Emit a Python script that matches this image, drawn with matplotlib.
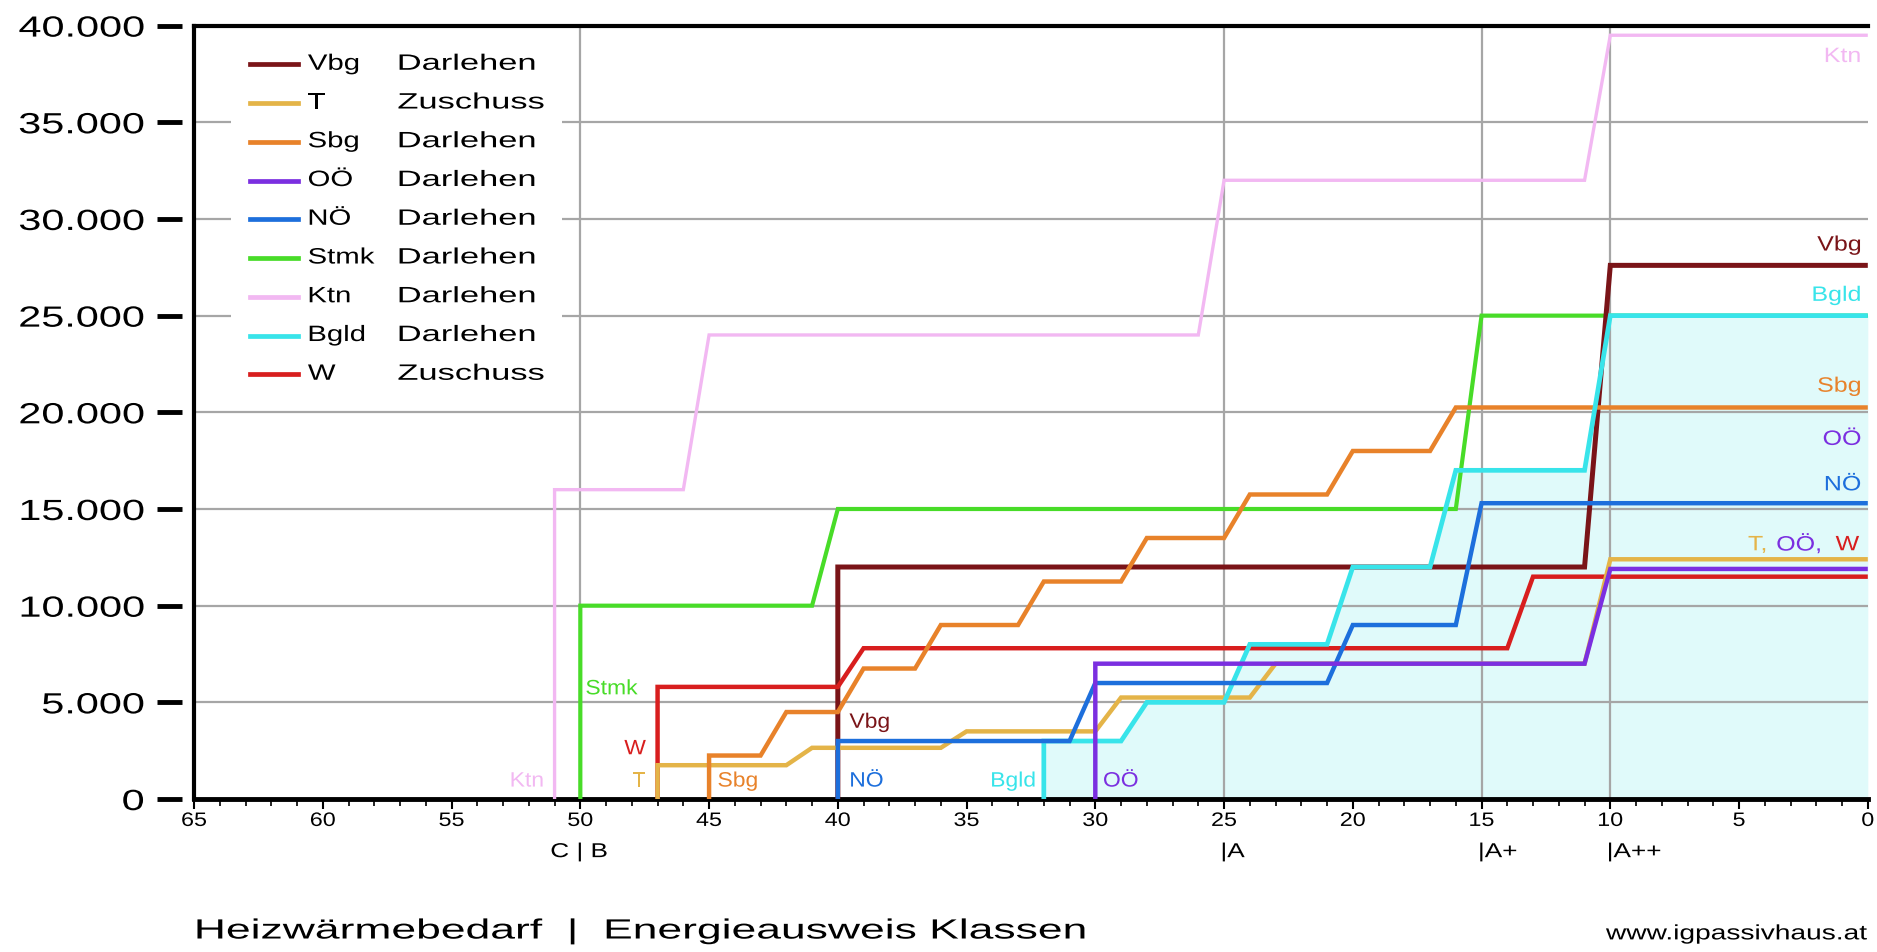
import numpy as np
import matplotlib.pyplot as plt
from matplotlib.ticker import MultipleLocator, FuncFormatter
from matplotlib.patheffects import AbstractPathEffect
from matplotlib.transforms import Affine2D

plt.rcParams['font.family'] = ['Liberation Sans', 'DejaVu Sans']

# Foerderung je Bundesland, Stufen ueber dem Heizwaermebedarf (kWh/m2a)
names = ['Vbg', 'T', 'Sbg', 'OÖ', 'NÖ', 'Stmk', 'Ktn', 'Bgld', 'W']
kinds = ['Darlehen', 'Zuschuss', 'Darlehen', 'Darlehen', 'Darlehen',
         'Darlehen', 'Darlehen', 'Darlehen', 'Zuschuss']
colors = ['#7a1418', '#e4b448', '#e8822a', '#7b2fe0', '#1d6fdc',
          '#48dc28', '#f2b8f2', '#38e4ea', '#d81e1e']

vbg_x = [40, 40, 11, 10, 0]
vbg_y = [0, 12000, 12000, 27600, 27600]
t_x = [47, 47, 42, 41, 36, 35, 30, 29, 24, 23, 11, 10, 0]
t_y = [0, 1750, 1750, 2650, 2650, 3500, 3500, 5250, 5250, 7000, 7000, 12400, 12400]
sbg_x = [45, 45, 43, 42, 40, 39, 37, 36, 33, 32, 29, 28, 25, 24, 21, 20, 17, 16, 0]
sbg_y = [0, 2250, 2250, 4500, 4500, 6750, 6750, 9000, 9000, 11250, 11250,
         13500, 13500, 15750, 15750, 18000, 18000, 20250, 20250]
ooe_x = [30, 30, 11, 10, 0]
ooe_y = [0, 7000, 7000, 11900, 11900]
noe_x = [40, 40, 31, 30, 21, 20, 16, 15, 0]
noe_y = [0, 3000, 3000, 6000, 6000, 9000, 9000, 15300, 15300]
stmk_x = [50, 50, 41, 40, 16, 15, 0]
stmk_y = [0, 10000, 10000, 15000, 15000, 25000, 25000]
ktn_x = [51, 51, 46, 45, 26, 25, 11, 10, 0]
ktn_y = [0, 16000, 16000, 24000, 24000, 32000, 32000, 39500, 39500]
bgld_x = [32, 32, 29, 28, 25, 24, 21, 20, 17, 16, 11, 10, 0]
bgld_y = [0, 3000, 3000, 5000, 5000, 8000, 8000, 12000, 12000, 17000, 17000, 25000, 25000]
w_x = [47, 47, 40, 39, 14, 13, 0]
w_y = [0, 5800, 5800, 7800, 7800, 11500, 11500]

class_bounds = [50, 25, 15, 10]
class_labels = ['C | B', '|A', '|A+', '|A++']


class Widen(AbstractPathEffect):
    """stretch glyphs horizontally, the source image is wide-set"""
    def __init__(self, sx=1.35, anchor='left'):
        super().__init__()
        self.sx = sx
        self.anchor = anchor

    def draw_path(self, renderer, gc, tpath, affine, rgbFace=None):
        ext = tpath.get_extents()
        x0 = {'left': ext.x0, 'right': ext.x1, 'center': (ext.x0 + ext.x1) / 2}[self.anchor]
        st = Affine2D().translate(-x0, 0).scale(self.sx, 1).translate(x0, 0)
        renderer.draw_path(gc, tpath, st + affine, rgbFace)


fig = plt.figure(figsize=(18.77, 9.53), dpi=100)
ax = fig.add_axes([0.1034, 0.1605, 0.8917, 0.8116])
ax.set_xlim(65, 0)
ax.set_ylim(0, 40000)

# grid
ax.set_yticks(np.arange(0, 40001, 5000))
ax.yaxis.grid(True, color='#a6a6a6', lw=1.6, zorder=0.5)
ax.set_axisbelow(True)
for b in class_bounds:
    ax.axvline(b, color='#a6a6a6', lw=1.6, zorder=0.5)

ax.fill_between(bgld_x, bgld_y, 0, color='#e0fafa', lw=0, zorder=0.3)

series = {
    'Ktn': (ktn_x, ktn_y, 2.4),
    'Stmk': (stmk_x, stmk_y, 3.0),
    'Vbg': (vbg_x, vbg_y, 3.6),
    'W': (w_x, w_y, 3.2),
    'T': (t_x, t_y, 3.2),
    'Sbg': (sbg_x, sbg_y, 3.2),
    'Bgld': (bgld_x, bgld_y, 3.4),
    'NÖ': (noe_x, noe_y, 3.2),
    'OÖ': (ooe_x, ooe_y, 3.2),
}
for k, (xs, ys, lw) in series.items():
    c = colors[names.index(k)]
    ax.plot(xs, ys, color=c, lw=lw, solid_joinstyle='miter', solid_capstyle='butt', zorder=3)

# axes frame
ax.spines['right'].set_visible(False)
ax.spines['top'].set_linewidth(3)
ax.spines['bottom'].set_linewidth(3.5)
ax.spines['left'].set_position(('outward', 9))
ax.spines['left'].set_color('none')
ax.axvline(65, color='black', lw=3, zorder=5, clip_on=False)

ax.yaxis.set_major_formatter(FuncFormatter(lambda v, p: f'{int(v):,}'.replace(',', '.')))
ax.tick_params(axis='y', length=18, width=3.5, pad=9, labelsize=21)
ax.xaxis.set_major_locator(MultipleLocator(5))
ax.xaxis.set_minor_locator(MultipleLocator(1))
ax.tick_params(axis='x', which='major', length=7, width=1.5, pad=3, labelsize=14)
ax.tick_params(axis='x', which='minor', length=5, width=1.2)
for lab in ax.get_yticklabels():
    lab.set_path_effects([Widen(1.42, 'right')])
for lab in ax.get_xticklabels():
    lab.set_path_effects([Widen(1.2, 'center')])

# legend, drawn by hand
box = plt.Rectangle((0.022, 0.518), 0.198, 0.47, transform=ax.transAxes,
                    facecolor='white', edgecolor='none', zorder=1)
ax.add_patch(box)
for i, (n, kd, c) in enumerate(zip(names, kinds, colors)):
    yy = 0.950 - i * 0.0501
    ax.plot([0.0336, 0.0623], [yy, yy], transform=ax.transAxes, color=c, lw=3.4, zorder=4)
    ax.text(0.068, yy, n, transform=ax.transAxes, fontsize=16, va='center', ha='left',
            zorder=4, path_effects=[Widen(1.32, 'left')])
    ax.text(0.1217, yy, kd, transform=ax.transAxes, fontsize=16, va='center', ha='left',
            zorder=4, path_effects=[Widen(1.55, 'left')])

# direct labels at the right end
right_labels = [('Ktn', 38400), ('Vbg', 28650), ('Bgld', 26050), ('Sbg', 21350),
                ('OÖ', 18600), ('NÖ', 16250)]
for n, yy in right_labels:
    ax.text(0.25, yy, n, color=colors[names.index(n)], fontsize=15, ha='right', va='center',
            zorder=4, path_effects=[Widen(1.2, 'right')])
for n, xx in [('T,', 4.65), ('OÖ,', 3.55), ('W', 1.25)]:
    ax.text(xx, 13150, n, color=colors[names.index(n.rstrip(','))], fontsize=15, ha='left',
            va='center', zorder=4, path_effects=[Widen(1.2, 'left')])

# direct labels at the start of each line
start_labels = [('Ktn', 51.4, 930, 'right'), ('Stmk', 49.8, 5700, 'left'),
                ('W', 47.45, 2600, 'right'), ('T', 47.45, 930, 'right'),
                ('Sbg', 44.67, 930, 'left'), ('Vbg', 39.55, 3970, 'left'),
                ('NÖ', 39.55, 930, 'left'), ('Bgld', 32.3, 930, 'right'),
                ('OÖ', 29.7, 930, 'left')]
for n, xx, yy, ha in start_labels:
    ax.text(xx, yy, n, color=colors[names.index(n)], fontsize=15, ha=ha, va='center',
            zorder=4, path_effects=[Widen(1.1, ha)])

# energy classes below the axis
trans = ax.get_xaxis_transform()
for b, lab in zip(class_bounds, class_labels):
    if lab.startswith('|'):
        ax.text(b + 0.12, -0.068, lab, transform=trans, fontsize=14.5, ha='left', va='center',
                path_effects=[Widen(1.3, 'left')])
    else:
        ax.text(b + 0.05, -0.068, lab, transform=trans, fontsize=14.5, ha='center', va='center',
                path_effects=[Widen(1.3, 'center')])

fig.text(0.104, 0.0215, 'Heizwärmebedarf  |  Energieausweis Klassen', fontsize=20,
         ha='left', va='center', path_effects=[Widen(1.6, 'left')])
fig.text(0.995, 0.019, 'www.igpassivhaus.at', fontsize=15, ha='right', va='center',
         path_effects=[Widen(1.35, 'right')])

fig.savefig('out.png', dpi=100)
